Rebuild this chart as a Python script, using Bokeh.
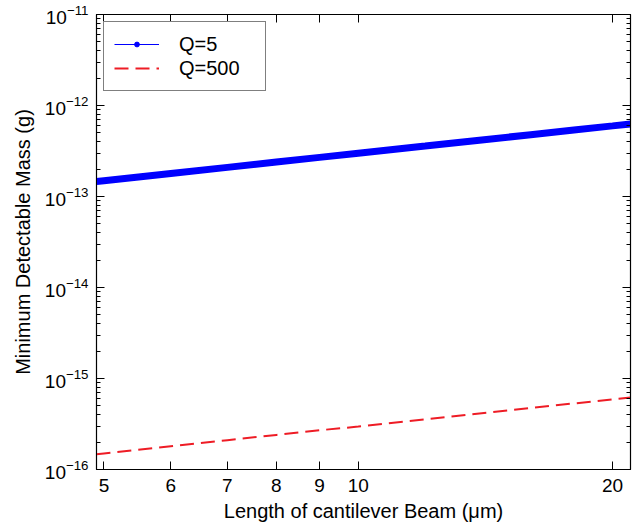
from bokeh.plotting import figure
from bokeh.models import (Range1d, FixedTicker, LogAxis, Legend, LegendItem,
                          PrintfTickFormatter, CustomJSTickFormatter)
from bokeh.embed import file_html
from bokeh.resources import INLINE

# ---- data ----
length_um = [4.9, 5, 6, 7, 8, 9, 10, 12, 14, 16, 18, 20, 21]
mass_q5 = [1.46e-13, 1.49e-13, 1.79e-13, 2.09e-13, 2.39e-13, 2.69e-13, 2.99e-13,
           3.58e-13, 4.18e-13, 4.78e-13, 5.38e-13, 5.97e-13, 6.27e-13]
mass_q500 = [1.47e-16, 1.50e-16, 1.80e-16, 2.10e-16, 2.40e-16, 2.70e-16, 2.96e-16,
             3.55e-16, 4.15e-16, 4.75e-16, 5.32e-16, 5.90e-16, 6.20e-16]
x_ticks = [5, 6, 7, 8, 9, 10, 20]
y_ticks = [1e-16, 1e-15, 1e-14, 1e-13, 1e-12, 1e-11]
y_minor = [m * 10.0 ** e for e in range(-16, -11) for m in range(2, 10)]

FONT = "Liberation Sans"

p = figure(width=634, height=528, x_axis_type="log", y_axis_type="log",
           x_range=Range1d(4.9, 21), y_range=Range1d(1e-16, 1e-11),
           output_backend="svg", toolbar_location=None,
           min_border_left=96, min_border_right=4, min_border_top=14,
           min_border_bottom=59, background_fill_color="white",
           border_fill_color="white")
p.grid.visible = False
p.outline_line_color = "black"
p.outline_line_width = 1.2

# x axis
xax = p.xaxis[0]
xax.ticker = FixedTicker(ticks=x_ticks, minor_ticks=[])
xax.formatter = PrintfTickFormatter(format="%d")
xax.axis_label = "Length of cantilever Beam (\u03bcm)"
# y axis
yax = p.yaxis[0]
yax.ticker = FixedTicker(ticks=y_ticks, minor_ticks=y_minor)
yax.axis_label = "Minimum Detectable Mass (g)"

for ax in (xax, yax):
    ax.major_tick_in = 8
    ax.major_tick_out = 0
    ax.minor_tick_in = 4
    ax.minor_tick_out = 0
    ax.axis_line_color = "black"
    ax.major_tick_line_color = "black"
    ax.minor_tick_line_color = "black"
    ax.major_label_text_font = FONT
    ax.major_label_text_font_size = "19px"
    ax.major_label_text_color = "black"
    ax.axis_label_text_font = FONT
    ax.axis_label_text_font_size = "20px"
    ax.axis_label_text_font_style = "normal"
    ax.axis_label_text_color = "black"
xax.major_label_standoff = 9
xax.axis_label_standoff = 5
yax.major_label_standoff = 8
yax.axis_label_standoff = 8

empty = CustomJSTickFormatter(code="return ''")
top = LogAxis(ticker=FixedTicker(ticks=x_ticks, minor_ticks=[]), formatter=empty,
              major_tick_in=8, major_tick_out=0, major_label_standoff=0,
              axis_line_color="black")
right = LogAxis(ticker=FixedTicker(ticks=y_ticks, minor_ticks=y_minor), formatter=empty,
                major_tick_in=8, major_tick_out=0, minor_tick_in=4, minor_tick_out=0,
                major_label_standoff=0, axis_line_color="black")
p.add_layout(top, "above")
p.add_layout(right, "right")

# series
band = p.line(length_um, mass_q5, line_color="#0000ff", line_width=7)
blue_line = p.line(length_um, mass_q5, line_color="#0000ff", line_width=1.2)
blue_pts = p.scatter(length_um, mass_q5, marker="circle", size=3,
                     fill_color="#0000ff", line_color="#0000ff")
red_line = p.line(length_um, mass_q500, line_color="#ee1c25", line_width=2,
                  line_dash="14 7")

legend = Legend(items=[LegendItem(label="Q=5", renderers=[blue_line, blue_pts]),
                       LegendItem(label="Q=500", renderers=[red_line])],
                location="top_left")
legend.margin = 7
legend.padding = 10
legend.spacing = 0
legend.glyph_width = 45
legend.glyph_height = 12
legend.label_height = 24
legend.label_width = 76
legend.label_standoff = 20
legend.label_text_font = FONT
legend.label_text_font_size = "20px"
legend.label_text_color = "black"
legend.border_line_color = "black"
legend.border_line_width = 1.2
legend.background_fill_alpha = 1
p.add_layout(legend)

open("out.html", "w").write(file_html(p, INLINE))
